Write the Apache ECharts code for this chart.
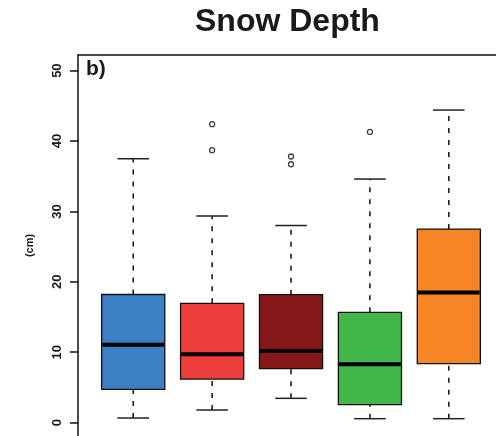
<!DOCTYPE html>
<html>
<head>
<meta charset="utf-8">
<script src="https://cdn.jsdelivr.net/npm/echarts@6/dist/echarts.min.js"></script>
<style>html,body{margin:0;padding:0;background:#fff;}#c{width:496px;height:436px;}</style>
</head>
<body>
<div id="c"></div>
<script>
const groups = [1, 2, 3, 4, 5];
const lowerWhisker = [0.65, 1.79, 3.45, 0.56, 0.56];
const q1 = [4.73, 6.19, 7.66, 2.55, 8.37];
const median = [11.07, 9.7, 10.17, 8.28, 18.5];
const q3 = [18.2, 16.94, 18.17, 15.67, 27.5];
const upperWhisker = [37.5, 29.35, 28.0, 34.6, 44.4];
const outlierGroup = [2, 2, 3, 3, 4];
const outlierValue = [38.7, 42.4, 37.8, 36.7, 41.3];
const colors = ['#3B7FC4', '#EE3D3D', '#861719', '#42B649', '#F68523'];
const yTicks = [0, 10, 20, 30, 40, 50];

const boxData = groups.map((g, i) => [g, lowerWhisker[i], q1[i], median[i], q3[i], upperWhisker[i]]);
const outData = outlierGroup.map((g, i) => [g, outlierValue[i]]);

const chart = echarts.init(document.getElementById('c'), null, {renderer: 'canvas'});
chart.setOption({
  animation: false,
  graphic: [
    {type: 'text', left: 195, top: 6, style: {text: 'Snow Depth', font: 'bold 32px "Liberation Sans", Arial, sans-serif', fill: '#1a1a1a'}},
    {type: 'text', left: 86, top: 59, style: {text: 'b)', font: 'bold 21px "Liberation Sans", Arial, sans-serif', fill: '#1a1a1a'}}
  ],
  grid: {left: 78, top: 55, right: 0, bottom: 0, show: false},
  xAxis: [
    {type: 'value', min: 0.3, max: 5.598, show: false},
    {type: 'value', min: 0.3, max: 5.598, position: 'top', show: true,
      axisLine: {show: true, lineStyle: {color: '#111', width: 1.5}},
      axisTick: {show: false}, axisLabel: {show: false}, splitLine: {show: false}}
  ],
  yAxis: {
    type: 'value', min: -1.9, max: 52.22,
    name: '(cm)', nameLocation: 'middle', nameRotate: 90, nameGap: 43,
    nameTextStyle: {fontFamily: '"Liberation Sans", Arial', fontWeight: 'bold', fontSize: 11, color: '#1a1a1a'},
    axisLine: {show: true, lineStyle: {color: '#111', width: 1.5}},
    axisTick: {show: true, length: 8, customValues: yTicks, lineStyle: {color: '#111', width: 1.5}},
    axisLabel: {show: true, customValues: yTicks, rotate: 90, margin: 14, fontFamily: '"Liberation Sans", Arial', fontWeight: 'bold', fontSize: 13, color: '#1a1a1a'},
    splitLine: {show: false}
  },
  series: [
    {
      type: 'custom',
      data: boxData,
      clip: false,
      renderItem: function (params, api) {
        const x = api.value(0);
        const lo = api.value(1), a = api.value(2), m = api.value(3), b = api.value(4), hi = api.value(5);
        const pL = api.coord([x - 0.4, a]);
        const pR = api.coord([x + 0.4, b]);
        const pc = (v) => api.coord([x, v]);
        const cL = (v) => api.coord([x - 0.2, v]);
        const cR = (v) => api.coord([x + 0.2, v]);
        const mL = api.coord([x - 0.4, m]);
        const mR = api.coord([x + 0.4, m]);
        const dash = {stroke: '#111', lineWidth: 1.5, lineDash: [5, 7]};
        const solid = {stroke: '#222', lineWidth: 1.5};
        return {
          type: 'group',
          children: [
            {type: 'line', shape: {x1: pc(b)[0], y1: pc(b)[1], x2: pc(hi)[0], y2: pc(hi)[1]}, style: dash},
            {type: 'line', shape: {x1: pc(lo)[0], y1: pc(lo)[1], x2: pc(a)[0], y2: pc(a)[1]}, style: dash},
            {type: 'line', shape: {x1: cL(hi)[0], y1: cL(hi)[1], x2: cR(hi)[0], y2: cR(hi)[1]}, style: solid},
            {type: 'line', shape: {x1: cL(lo)[0], y1: cL(lo)[1], x2: cR(lo)[0], y2: cR(lo)[1]}, style: solid},
            {type: 'rect', shape: {x: pL[0], y: pR[1], width: pR[0] - pL[0], height: pL[1] - pR[1]},
              style: {fill: colors[params.dataIndex], stroke: '#111', lineWidth: 1.3}},
            {type: 'line', shape: {x1: mL[0] + 0.7, y1: mL[1], x2: mR[0] - 0.7, y2: mR[1]}, style: {stroke: '#000', lineWidth: 4}}
          ]
        };
      }
    },
    {
      type: 'scatter',
      data: outData,
      symbol: 'circle',
      symbolSize: 5,
      itemStyle: {color: '#fff', borderColor: '#111', borderWidth: 1.3}
    }
  ]
});
</script>
</body>
</html>
